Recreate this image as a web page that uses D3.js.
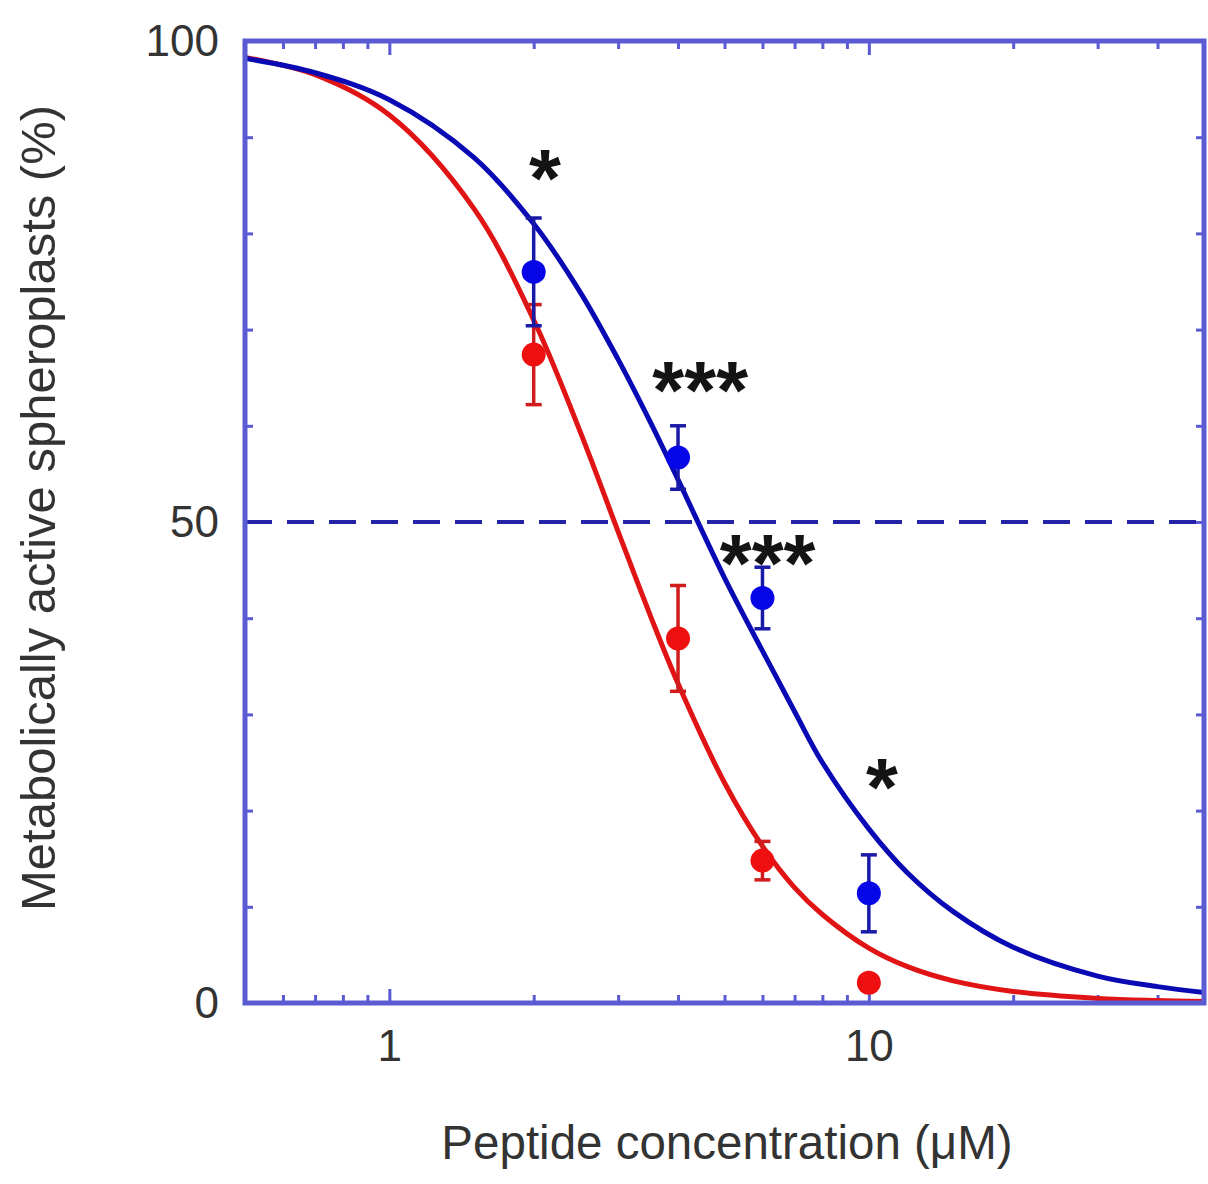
<!DOCTYPE html>
<html>
<head>
<meta charset="utf-8">
<script src="https://cdn.jsdelivr.net/npm/d3@7"></script>
<style>
  html, body { margin: 0; padding: 0; background: #ffffff; }
  svg { display: block; }
  text { font-family: "Liberation Sans", Arial, Helvetica, sans-serif; fill: #333333; }
</style>
</head>
<body>
<svg id="chart" width="1208" height="1184"></svg>
<script>
// Measured concentrations (µM) and viability (% metabolically active spheroplasts)
const conc = [2, 4, 6, 10];
const blueMean = [76.0, 56.7, 42.1, 11.4];
const blueErr  = [5.6, 3.3, 3.2, 4.0];
const redMean  = [67.4, 37.9, 14.8, 2.1];
const redErr   = [5.2, 5.5, 2.0, 0];

// Dose-response fit curves sampled along the concentration axis
const fitConc = [0.5, 0.7, 1, 1.5, 2, 2.5, 3, 3.5, 4, 5, 6, 7, 8, 10, 12, 15, 20, 30, 40, 50];
const blueFit = [98.2, 96.7, 93.9, 87.9, 81.0, 73.9, 66.9, 60.4, 54.4, 44.2, 36.6, 30.3, 25.0, 18.1, 13.6, 9.5, 5.8, 2.8, 1.7, 1.1];
const redFit  = [98.3, 96.5, 92.3, 82.6, 71.0, 59.4, 49.0, 40.3, 33.2, 22.9, 16.3, 12.0, 9.2, 5.7, 3.8, 2.3, 1.2, 0.48, 0.25, 0.15];

// Significance markers (anchored in data coordinates)
const sigText = ["*", "***", "***", "*"];
const sigConc = [2.11, 4.45, 6.15, 10.65];
const sigLevel = [87.0, 65.0, 47.0, 23.7];

// Axis ticks and labels
const xLabelTicks = [1, 10];
const xMinorTicks = [0.6, 0.7, 0.8, 0.9, 2, 3, 4, 5, 6, 7, 8, 9, 20, 30, 40];
const yLabelTicks = [0, 50, 100];
const yMinorTicks = [10, 20, 30, 40, 50, 60, 70, 80, 90];
const halfLevel = 50;

const xTitle = "Peptide concentration (\u03BCM)";
const yTitle = "Metabolically active spheroplasts (%)";

const plot = { left: 245, right: 1204, top: 41, bottom: 1003 };

const svg = d3.select("#chart");
const x = d3.scaleLog().domain([0.5, 50]).range([plot.left, plot.right]);
const y = d3.scaleLinear().domain([0, 100]).range([plot.bottom, plot.top]);

const frameColor = "#5a5ad2";
const blue = "#0a0ab4";
const blueDot = "#0606e6";
const red = "#e01414";
const redDot = "#ee1010";

// Inward ticks on all four sides
function styleAxis(g) {
  g.select(".domain").remove();
  g.selectAll(".tick line").attr("stroke", frameColor).attr("stroke-width", 3);
}
svg.append("g").attr("transform", `translate(0,${plot.bottom})`)
  .call(d3.axisBottom(x).tickValues(xMinorTicks).tickSize(-8).tickFormat(""))
  .call(styleAxis);
svg.append("g").attr("transform", `translate(0,${plot.bottom})`)
  .call(d3.axisBottom(x).tickValues(xLabelTicks).tickSize(-14).tickPadding(27).tickFormat(d3.format("d")))
  .call(styleAxis)
  .call(g => g.selectAll("text").attr("font-size", 44).attr("fill", "#333"));
svg.append("g").attr("transform", `translate(0,${plot.top})`)
  .call(d3.axisTop(x).tickValues(xMinorTicks).tickSize(-8).tickFormat(""))
  .call(styleAxis);
svg.append("g").attr("transform", `translate(0,${plot.top})`)
  .call(d3.axisTop(x).tickValues(xLabelTicks).tickSize(-14).tickFormat(""))
  .call(styleAxis);

svg.append("g").attr("transform", `translate(${plot.left},0)`)
  .call(d3.axisLeft(y).tickValues(yMinorTicks).tickSize(-8).tickFormat(""))
  .call(styleAxis);
svg.append("g").attr("transform", `translate(${plot.left},0)`)
  .call(d3.axisLeft(y).tickValues(yLabelTicks).tickSize(0).tickPadding(26).tickFormat(d3.format("d")))
  .call(styleAxis)
  .call(g => g.selectAll("text").attr("font-size", 44).attr("fill", "#333"));
svg.append("g").attr("transform", `translate(${plot.right},0)`)
  .call(d3.axisRight(y).tickValues(yMinorTicks).tickSize(-8).tickFormat(""))
  .call(styleAxis);

// 50% reference line
svg.append("line")
  .attr("x1", plot.left).attr("x2", plot.right)
  .attr("y1", y(halfLevel)).attr("y2", y(halfLevel))
  .attr("stroke", "#2323a8").attr("stroke-width", 4)
  .attr("stroke-dasharray", "27 15");

// Fit curves
const line = d3.line().curve(d3.curveCatmullRom.alpha(0.5));
svg.append("path")
  .attr("d", line(fitConc.map((c, i) => [x(c), y(redFit[i])])))
  .attr("fill", "none").attr("stroke", red).attr("stroke-width", 5);
svg.append("path")
  .attr("d", line(fitConc.map((c, i) => [x(c), y(blueFit[i])])))
  .attr("fill", "none").attr("stroke", blue).attr("stroke-width", 5);

// Data points with error bars
function drawSeries(means, errs, barColor, dotColor) {
  const g = svg.append("g");
  conc.forEach((c, i) => {
    const cx = x(c);
    if (errs[i] > 0) {
      const y0 = y(means[i] - errs[i]), y1 = y(means[i] + errs[i]);
      g.append("line").attr("x1", cx).attr("x2", cx).attr("y1", y0).attr("y2", y1)
        .attr("stroke", barColor).attr("stroke-width", 3.5);
      [y0, y1].forEach(yy => g.append("line")
        .attr("x1", cx - 8).attr("x2", cx + 8).attr("y1", yy).attr("y2", yy)
        .attr("stroke", barColor).attr("stroke-width", 3.5));
    }
    g.append("circle").attr("cx", cx).attr("cy", y(means[i])).attr("r", 12)
      .attr("fill", dotColor);
  });
}
drawSeries(redMean, redErr, "#d01c1c", redDot);
drawSeries(blueMean, blueErr, "#1a1aa8", blueDot);

// Significance stars
sigText.forEach((t, i) => {
  svg.append("text")
    .attr("x", x(sigConc[i])).attr("y", y(sigLevel[i]) + 40)
    .attr("text-anchor", "middle").attr("font-size", 82)
    .attr("font-weight", "bold")
    .style("fill", "#141414")
    .text(t);
});

// Plot frame
svg.append("rect")
  .attr("x", plot.left).attr("y", plot.top)
  .attr("width", plot.right - plot.left).attr("height", plot.bottom - plot.top)
  .attr("fill", "none").attr("stroke", frameColor).attr("stroke-width", 5);

// Axis titles
svg.append("text")
  .attr("x", 727).attr("y", 1159)
  .attr("text-anchor", "middle").attr("font-size", 47.5)
  .text(xTitle);
svg.append("text")
  .attr("transform", `translate(55,${508}) rotate(-90)`)
  .attr("text-anchor", "middle").attr("font-size", 49)
  .text(yTitle);
</script>
</body>
</html>
